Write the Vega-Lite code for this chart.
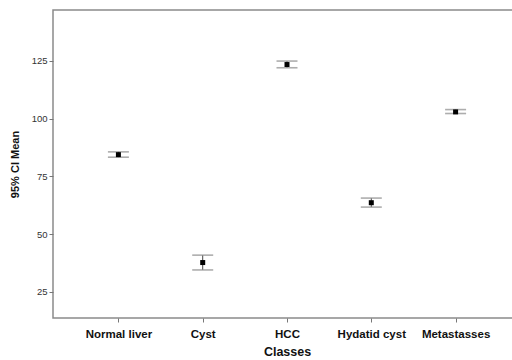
{
  "$schema": "https://vega.github.io/schema/vega-lite/v6.json",
  "autosize": "none",
  "width": 468,
  "height": 308,
  "padding": {"left": 53, "top": 10, "right": 0, "bottom": 42},
  "background": "white",
  "config": {
    "view": {"stroke": "#8a8a8a", "strokeWidth": 1.5},
    "font": "Liberation Sans"
  },
  "data": {
    "values": [
      {"cls": "Normal liver", "mean": 84.4, "lower": 83.3, "upper": 85.6},
      {"cls": "Cyst", "mean": 37.7, "lower": 34.5, "upper": 40.9},
      {"cls": "HCC", "mean": 123.4, "lower": 122.0, "upper": 124.9},
      {"cls": "Hydatid cyst", "mean": 63.6, "lower": 61.7, "upper": 65.6},
      {"cls": "Metastasses", "mean": 102.9, "lower": 102.2, "upper": 103.9}
    ]
  },
  "encoding": {
    "x": {
      "field": "cls",
      "type": "nominal",
      "sort": null,
      "scale": {"type": "point", "padding": 0.776},
      "axis": {
        "title": "Classes",
        "titleFontSize": 12.5,
        "titleFontWeight": "bold",
        "titleColor": "#111",
        "titlePadding": 6,
        "labelAngle": 0,
        "labelFontSize": 11.5,
        "labelFontWeight": "bold",
        "labelColor": "#111",
        "labelPadding": 6,
        "domain": false,
        "tickColor": "#777",
        "tickSize": 4,
        "grid": false
      }
    }
  },
  "layer": [
    {
      "mark": {"type": "rule", "color": "#444", "strokeWidth": 1},
      "encoding": {
        "y": {
          "field": "lower",
          "type": "quantitative",
          "scale": {"domain": [13.7, 147], "nice": false, "zero": false},
          "axis": {
            "title": "95% CI Mean",
            "titleFontSize": 11,
            "titleFontWeight": "bold",
            "titleColor": "#111",
            "titlePadding": 11,
            "values": [25, 50, 75, 100, 125],
            "labelFontSize": 9.5,
            "labelColor": "#333",
            "labelPadding": 2,
            "domain": false,
            "tickColor": "#777",
            "tickSize": 4,
            "grid": false
          }
        },
        "y2": {"field": "upper"}
      }
    },
    {
      "mark": {"type": "tick", "color": "#8a8a8a", "size": 21, "thickness": 1.6, "orient": "horizontal"},
      "encoding": {"y": {"field": "lower", "type": "quantitative"}}
    },
    {
      "mark": {"type": "tick", "color": "#8a8a8a", "size": 21, "thickness": 1.6, "orient": "horizontal"},
      "encoding": {"y": {"field": "upper", "type": "quantitative"}}
    },
    {
      "mark": {"type": "point", "shape": "square", "filled": true, "color": "#000", "size": 25, "opacity": 1},
      "encoding": {"y": {"field": "mean", "type": "quantitative"}}
    }
  ]
}
